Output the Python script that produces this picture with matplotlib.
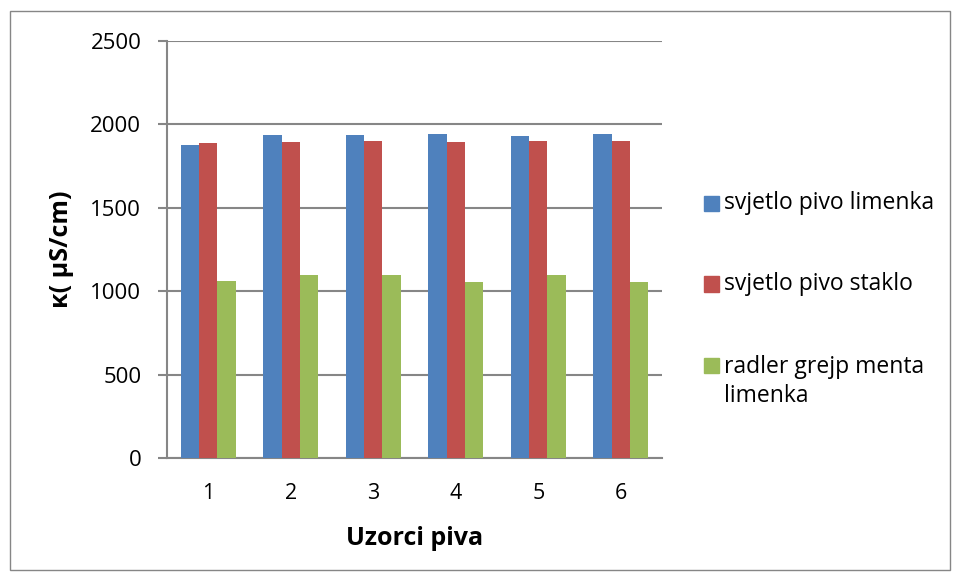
import matplotlib.pyplot as plt
import numpy as np
from matplotlib.patches import Rectangle

uzorci = ['1', '2', '3', '4', '5', '6']
limenka = [1878, 1938, 1938, 1942, 1928, 1942]
staklo = [1890, 1892, 1898, 1894, 1898, 1902]
radler = [1060, 1100, 1100, 1056, 1100, 1058]
labels = ['svjetlo pivo limenka', 'svjetlo pivo staklo', 'radler grejp menta\nlimenka']
colors = ['#4F81BD', '#C0504D', '#9BBB59']
yticks = [0, 500, 1000, 1500, 2000, 2500]

plt.rcParams['font.family'] = ['Open Sans', 'DejaVu Sans']

W, H = 956, 580
fig = plt.figure(figsize=(W / 100, H / 100), dpi=100)
fig.patches.append(Rectangle((10 / W, 10 / H), 940 / W, 559 / H, transform=fig.transFigure,
                             fill=False, edgecolor='#868686', linewidth=1))
ax = fig.add_axes([167 / W, (H - 458) / H, 495 / W, 417 / H])

x = np.arange(len(uzorci))
w = 0.222
for i, vals in enumerate([limenka, staklo, radler]):
    ax.bar(x + (i - 1) * w, vals, w, color=colors[i], label=labels[i], zorder=3)

ax.set_xlim(-0.5, len(uzorci) - 0.5)
ax.set_ylim(0, 2500)
ax.set_yticks(yticks)
ax.set_xticks(x)
ax.set_xticklabels(uzorci)
ax.tick_params(axis='x', length=0, labelsize=15.5, pad=18)
ax.tick_params(axis='y', length=6.5, width=1.5, color='#868686', labelsize=16, pad=12)
ax.grid(axis='y', color='#868686', linewidth=1.5, zorder=0)
for s in ['top', 'right']:
    ax.spines[s].set_visible(False)
for s in ['left', 'bottom']:
    ax.spines[s].set_color('#868686')
    ax.spines[s].set_linewidth(1.5)

ax.set_xlabel('Uzorci piva', fontsize=18, fontweight='bold', labelpad=16)
ax.set_ylabel('κ( μS/cm)', fontsize=18, fontweight='bold', labelpad=12)

# legend drawn by hand so the square sits on the first text line
leg_y = [203, 284, 365]
for lab, col, py in zip(labels, colors, leg_y):
    fig.patches.append(Rectangle((704 / W, (H - py - 7.5) / H), 15 / W, 15 / H,
                                 transform=fig.transFigure, color=col))
    if '\n' in lab:
        fig.text(724 / W, (H - py + 10) / H, lab, fontsize=16.5, va='top', linespacing=1.3)
    else:
        fig.text(724 / W, (H - py) / H, lab, fontsize=16.5, va='center')

fig.savefig('out.png', dpi=100)
